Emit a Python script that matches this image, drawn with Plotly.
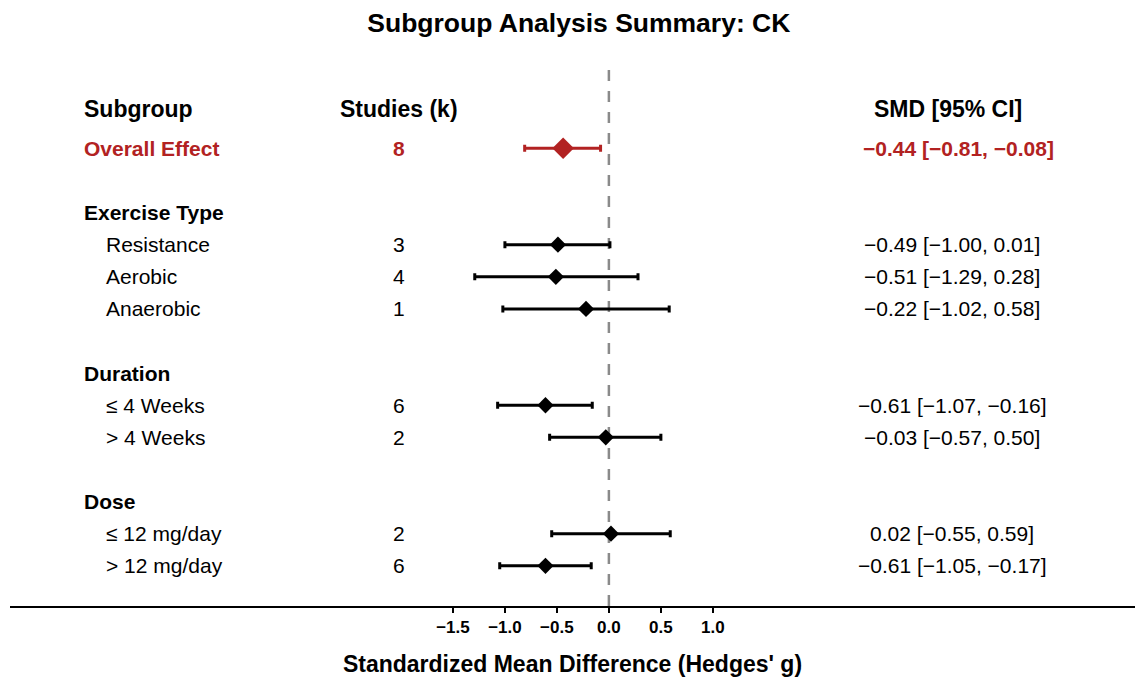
import plotly.graph_objects as go

# ---- data ----
labels = ['Overall Effect', 'Exercise Type', 'Resistance', 'Aerobic', 'Anaerobic',
          'Duration', '≤ 4 Weeks', '> 4 Weeks', 'Dose', '≤ 12 mg/day', '> 12 mg/day']
is_header = [False, True, False, False, False, True, False, False, True, False, False]
rows = [1, 3, 4, 5, 6, 8, 9, 10, 12, 13, 14]
k_studies = [8, None, 3, 4, 1, None, 6, 2, None, 2, 6]
smd = [-0.44, None, -0.49, -0.51, -0.22, None, -0.61, -0.03, None, 0.02, -0.61]
ci_low = [-0.81, None, -1.00, -1.29, -1.02, None, -1.07, -0.57, None, -0.55, -1.05]
ci_high = [-0.08, None, 0.01, 0.28, 0.58, None, -0.16, 0.50, None, 0.59, -0.17]

tick_vals = [-1.5, -1.0, -0.5, 0.0, 0.5, 1.0]

RED = '#B22222'
FONT = 'Liberation Sans, Arial, sans-serif'

# column positions (data units on the x axis)
x_label = -5.07
x_item = -4.86
x_k = -2.02
x_smd_head = 3.26
x_smd = 3.30
x_smd_overall = 3.365
y_head = -0.22


def fmt(v):
    return f'{v:.2f}'.replace('-', '\u2212')


fig = go.Figure()

# subgroup estimates (black)
sub = [i for i in range(1, len(labels)) if smd[i] is not None]
fig.add_trace(go.Scatter(
    x=[smd[i] for i in sub],
    y=[rows[i] for i in sub],
    mode='markers',
    marker=dict(symbol='diamond', size=12.5, color='black'),
    error_x=dict(type='data', symmetric=False,
                 array=[ci_high[i] - smd[i] for i in sub],
                 arrayminus=[smd[i] - ci_low[i] for i in sub],
                 color='black', thickness=3, width=3.5),
    showlegend=False, hoverinfo='skip'
))

# overall effect (red)
fig.add_trace(go.Scatter(
    x=[smd[0]], y=[rows[0]],
    mode='markers',
    marker=dict(symbol='diamond', size=16.5, color=RED),
    error_x=dict(type='data', symmetric=False,
                 array=[ci_high[0] - smd[0]], arrayminus=[smd[0] - ci_low[0]],
                 color=RED, thickness=3, width=3.5),
    showlegend=False, hoverinfo='skip'
))

# column headers
for txt, x, anchor in [('Subgroup', x_label, 'left'), ('Studies (k)', x_k, 'center'),
                       ('SMD [95% CI]', x_smd_head, 'center')]:
    fig.add_annotation(x=x, y=y_head, text=f'<b>{txt}</b>', showarrow=False,
                       xanchor=anchor, font=dict(size=23, color='black'))

# table text
for i, lab in enumerate(labels):
    y = rows[i]
    if i == 0:
        col, b = RED, True
    else:
        col, b = 'black', is_header[i]
    fig.add_annotation(x=x_label if b else x_item, y=y,
                       text=f'<b>{lab}</b>' if b else lab, showarrow=False,
                       xanchor='left', font=dict(size=21, color=col))
    if k_studies[i] is not None:
        t = str(k_studies[i])
        fig.add_annotation(x=x_k, y=y, text=f'<b>{t}</b>' if i == 0 else t,
                           showarrow=False, xanchor='center',
                           font=dict(size=21, color=col))
    if smd[i] is not None:
        t = f'{fmt(smd[i])} [{fmt(ci_low[i])}, {fmt(ci_high[i])}]'
        fig.add_annotation(x=x_smd_overall if i == 0 else x_smd, y=y,
                           text=f'<b>{t}</b>' if i == 0 else t,
                           showarrow=False, xanchor='center',
                           font=dict(size=21, color=col))

# null line
fig.add_shape(type='line', x0=0, x1=0, y0=0, y1=1, xref='x', yref='paper',
              line=dict(color='#8a8a8a', width=2.5, dash='11px,10px'), layer='below')

# page body adds an 8px margin, so the figure is 8px smaller than the window
fig.update_layout(
    width=1136, height=678,
    margin=dict(l=2, r=9, t=60, b=80),
    plot_bgcolor='white', paper_bgcolor='white',
    font=dict(family=FONT, color='black'),
    title=dict(text='<b>Subgroup Analysis Summary: CK</b>', x=0.5025, xanchor='center',
               y=0.978, yanchor='middle', font=dict(size=26.5)),
    xaxis=dict(range=[-5.76, 5.06], tickvals=tick_vals, tickformat='.1f',
               showgrid=False, zeroline=False,
               showline=True, linecolor='black', linewidth=2,
               ticks='outside', ticklen=5, tickwidth=1.5, tickcolor='black',
               tickfont=dict(size=17, weight='bold'),
               title=dict(text='<b>Standardized Mean Difference (Hedges\' g)</b>',
                          font=dict(size=23), standoff=19)),
    yaxis=dict(range=[15.25, -1.5], visible=False, showgrid=False, zeroline=False),
)

fig.write_html('out.html')
